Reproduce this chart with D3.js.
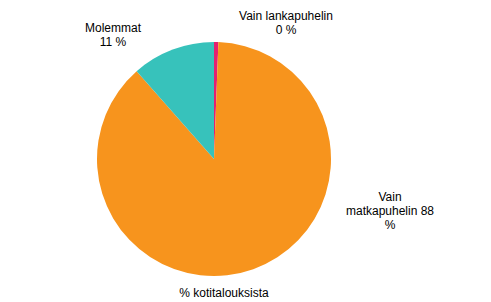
<!DOCTYPE html>
<html>
<head>
<meta charset="utf-8">
<script src="https://cdn.jsdelivr.net/npm/d3@7"></script>
<style>
  body { margin: 0; background: #fff; }
  text { font-family: "Liberation Sans", Arial, sans-serif; font-size: 12px; fill: #000; }
</style>
</head>
<body>
<script>
(function () {
  'use strict'
  const width = 491
  const height = 302

  // slices clockwise from 12 o'clock
  const categories = ['Vain lankapuhelin', 'Vain matkapuhelin', 'Molemmat']
  const values = [0.6, 87.9, 11.5]
  const shownValues = ['0 %', '88 %', '11 %']
  const colors = ['#e5206f', '#f7941d', '#37c2bb']
  const caption = '% kotitalouksista'

  const cx = 214
  const cy = 159
  const radius = 117

  const svg = d3.select('body').append('svg')
    .attr('width', width)
    .attr('height', height)

  const pie = d3.pie().sort(null).value(d => d)
  const arc = d3.arc().innerRadius(0).outerRadius(radius)

  const g = svg.append('g')
    .attr('transform', `translate(${cx}, ${cy})`)

  g.selectAll('path.slice')
    .data(pie(values))
    .enter().append('path')
    .attr('class', 'slice')
    .attr('d', arc)
    .style('fill', (d, i) => colors[i])

  // label lines, placed around the pie
  const labelLines = [
    [categories[0], shownValues[0]],
    ['Vain', 'matkapuhelin ' + shownValues[1].replace(' %', ''), '%'],
    [categories[2], shownValues[2]]
  ]
  const labelPos = [
    {x: 286, y: 20},
    {x: 390, y: 201},
    {x: 113, y: 32}
  ]
  const labels = svg.selectAll('text.label')
    .data(labelLines)
    .enter().append('text')
    .attr('class', 'label')
    .attr('text-anchor', 'middle')
    .attr('transform', (d, i) => `translate(${labelPos[i].x}, ${labelPos[i].y})`)
  labels.selectAll('tspan')
    .data(d => d)
    .enter().append('tspan')
    .attr('x', 0)
    .attr('y', (d, i) => i * 14)
    .text(d => d)

  svg.append('text')
    .attr('x', 224)
    .attr('y', 297)
    .attr('text-anchor', 'middle')
    .text(caption)
})()
</script>
</body>
</html>
